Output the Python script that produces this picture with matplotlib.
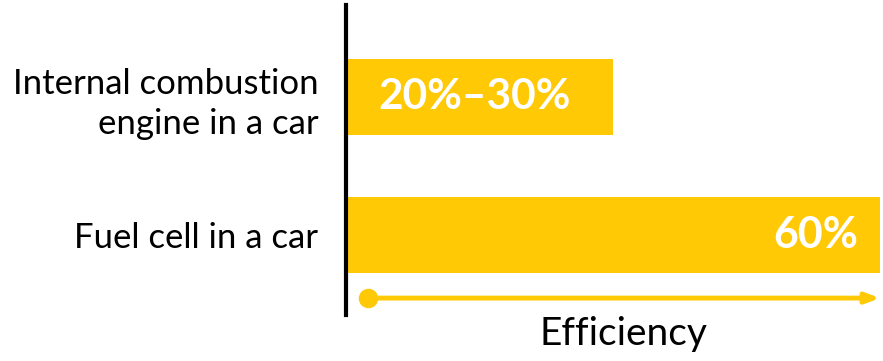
import matplotlib.pyplot as plt

plt.rcParams['font.family'] = ['Lato', 'DejaVu Sans']

categories = ["Fuel cell in a car", "Internal combustion\nengine in a car"]
values = [60, 30]
bar_texts = ["60%", "20%\u201330%"]
gold = "#FFC906"

fig = plt.figure(figsize=(8.83, 3.61), dpi=100)
ax = fig.add_axes([346 / 883, 46 / 361, 534 / 883, 310 / 361])

ypos = range(len(categories))
ax.barh(ypos, values, height=0.553, color=gold, left=0)
ax.set_xlim(0, 60)
ax.set_ylim(-0.585, 1.669)

ax.set_yticks(list(ypos))
ax.set_yticklabels(categories, fontsize=25, ha='right', linespacing=1.3)
ax.tick_params(axis='y', length=0, pad=20)
ax.set_xticks([])

for s in ['top', 'right', 'bottom']:
    ax.spines[s].set_visible(False)
ax.spines['left'].set_linewidth(3)
ax.spines['left'].set_color('black')

# value labels
ax.annotate(bar_texts[0], (values[0], 0), xytext=(-16, 0), textcoords='offset points',
            ha='right', va='center', color='white', fontsize=31, fontweight='bold')
ax.annotate(bar_texts[1], (0, 1), xytext=(23, 0), textcoords='offset points',
            ha='left', va='center', color='white', fontsize=30.5, fontweight='bold')

# efficiency arrow
ya = -0.462
ax.annotate('', xy=(60, ya), xytext=(2.47, ya),
            arrowprops=dict(arrowstyle='-|>,head_length=0.8,head_width=0.3', color=gold, lw=3.5,
                            shrinkA=0, shrinkB=0), annotation_clip=False)
ax.plot([2.47], [ya], 'o', color=gold, markersize=13, clip_on=False)
ax.text(0.519, -0.06, "Efficiency", transform=ax.transAxes, ha='center', va='center',
        fontsize=28)

fig.savefig("out.png", dpi=100)
